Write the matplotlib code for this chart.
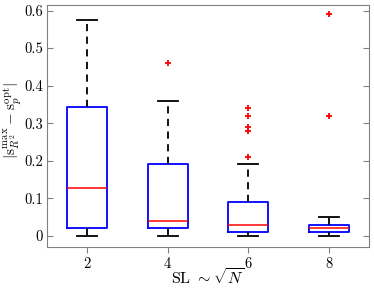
import matplotlib
matplotlib.use('Agg')
import matplotlib.pyplot as plt

plt.rcParams['font.family'] = 'cmr10'
plt.rcParams['mathtext.fontset'] = 'cm'
plt.rcParams['axes.formatter.use_mathtext'] = True

positions = [2, 4, 6, 8]
whislo = [0.0, 0.0, 0.0, 0.0]
q1 = [0.02, 0.02, 0.01, 0.01]
med = [0.128, 0.04, 0.03, 0.02]
q3 = [0.342, 0.19, 0.09, 0.03]
whishi = [0.574, 0.36, 0.19, 0.05]
fliers = [[], [0.46], [0.21, 0.28, 0.29, 0.32, 0.34], [0.32, 0.59]]

stats = []
for i in range(len(positions)):
    stats.append(dict(whislo=whislo[i], q1=q1[i], med=med[i], q3=q3[i],
                      whishi=whishi[i], fliers=fliers[i]))

fig = plt.figure(figsize=(3.74, 2.90), dpi=100)
ax = fig.add_axes([0.1257, 0.148, 0.861, 0.835])

ax.bxp(stats, positions=positions, widths=1.0, showfliers=True,
       boxprops=dict(color='blue', linewidth=1.3),
       medianprops=dict(color='red', linewidth=1.1),
       whiskerprops=dict(color='black', linestyle=(0, (4, 3)), linewidth=1.3),
       capprops=dict(color='black', linewidth=1.3),
       flierprops=dict(marker='+', markeredgecolor='red', markersize=4, markeredgewidth=1.3))

ax.set_xlim(1, 9)
ax.set_ylim(-0.03, 0.615)
ax.set_xticks(positions)
ax.set_xticklabels([str(p) for p in positions])
ax.set_yticks([0, 0.1, 0.2, 0.3, 0.4, 0.5, 0.6])
ax.set_yticklabels(['0', '0.1', '0.2', '0.3', '0.4', '0.5', '0.6'])

for s in ax.spines.values():
    s.set_color('#808080')
ax.tick_params(axis='y', direction='in', right=True, color='#808080', length=4, labelsize=10.5, pad=3)
ax.tick_params(axis='x', direction='out', color='#808080', length=4, labelsize=10.5, pad=3)

ax.set_xlabel(r'SL $\sim\sqrt{N}$', fontsize=11.5)
ax.xaxis.set_label_coords(0.5, -0.086)
ax.set_ylabel(r'$|\mathrm{s}^{\max}_{R^2}-\mathrm{s}^{\mathrm{opt}}_p|$', fontsize=11)
ax.yaxis.set_label_coords(-0.072, 0.52)

fig.savefig('out.png', dpi=100)
